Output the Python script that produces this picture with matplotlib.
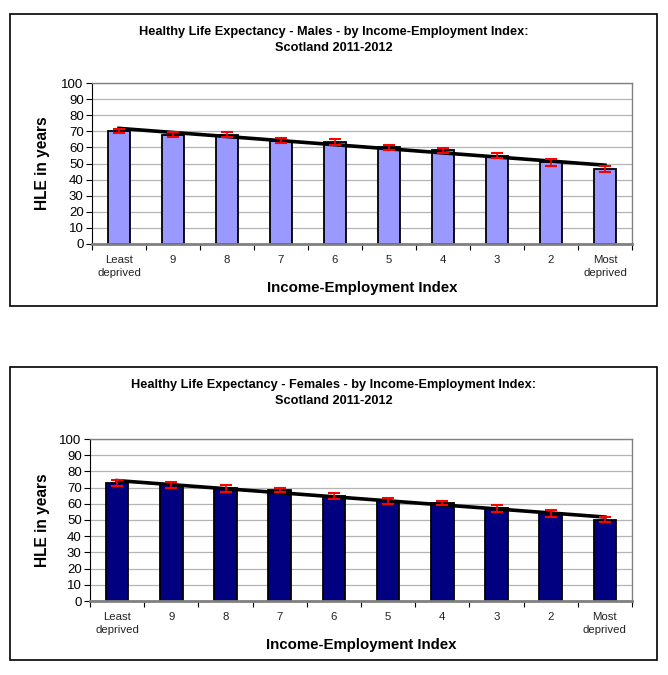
import matplotlib.pyplot as plt
import numpy as np
from matplotlib.patches import Rectangle
from matplotlib.ticker import FixedLocator

plt.rcParams['font.family'] = ['Liberation Sans', 'DejaVu Sans']

categories = ["Least\ndeprived", "9", "8", "7", "6", "5", "4", "3", "2", "Most\ndeprived"]

male_hle = [70.2, 68.0, 67.8, 64.2, 63.3, 60.0, 58.2, 54.9, 50.7, 46.6]
male_err = [1.5, 1.6, 1.6, 1.5, 1.8, 1.5, 1.4, 1.6, 2.1, 2.0]

female_hle = [72.8, 71.5, 69.5, 68.3, 64.8, 61.7, 60.7, 57.2, 54.1, 50.2]
female_err = [1.9, 1.7, 2.0, 1.3, 1.8, 1.8, 1.3, 2.2, 2.0, 1.4]

W, H = 668, 675
fig = plt.figure(figsize=(W / 100, H / 100), dpi=100)


def px_rect(x0, y0, x1, y1):
    # pixel box (top-left origin) -> figure fraction
    return [x0 / W, 1 - y1 / H, (x1 - x0) / W, (y1 - y0) / H]


def draw_chart(box, plot, values, errs, color, width, title):
    bx0, by0, bx1, by1 = box
    fig.add_artist(Rectangle((bx0 / W, 1 - by1 / H), (bx1 - bx0) / W, (by1 - by0) / H,
                             transform=fig.transFigure, fill=False,
                             edgecolor='black', linewidth=1.2))
    ax = fig.add_axes(px_rect(*plot))
    x = np.arange(len(values))
    ax.bar(x, values, width=width, color=color, edgecolor='black', linewidth=1.3, zorder=2)
    # linear trendline
    k, b = np.polyfit(x, values, 1)
    ax.plot(x, k * x + b, color='black', linewidth=2.6, zorder=3)
    ax.errorbar(x, values, yerr=errs, fmt='none', ecolor='red', elinewidth=1.2,
                capsize=4, capthick=1.5, zorder=4)

    ax.set_xlim(-0.5, len(values) - 0.5)
    ax.set_ylim(0, 100)
    ax.set_yticks(np.arange(0, 101, 10))
    ax.yaxis.grid(True, color='#b4b4b4', linewidth=0.9)
    ax.set_axisbelow(True)
    ax.tick_params(axis='y', labelsize=9.5, length=4, width=0.8, pad=2, colors='black')
    ax.set_xticks(x)
    ax.set_xticklabels(categories, fontsize=8.2, color='#222222', linespacing=1.3)
    ax.xaxis.set_minor_locator(FixedLocator(np.arange(-0.5, len(values), 1.0)))
    ax.tick_params(axis='x', which='major', length=0, pad=8)
    ax.tick_params(axis='x', which='minor', length=4, width=0.8, color='black')

    ax.spines['left'].set_color('black')
    ax.spines['left'].set_linewidth(0.8)
    ax.spines['bottom'].set_color('#808080')
    ax.spines['bottom'].set_linewidth(2.0)
    for s in ('top', 'right'):
        ax.spines[s].set_color('#808080')
        ax.spines[s].set_linewidth(1.0)

    cx = (bx0 + bx1) / 2 / W
    fig.text(cx, 1 - (by0 + 26) / H, title, ha='center', va='center',
             fontsize=9.2, fontweight='bold', linespacing=1.45)
    py0, py1 = plot[1], plot[3]
    fig.text(42 / W, 1 - (py0 + py1) / 2 / H, "HLE in years", rotation=90,
             ha='center', va='center', fontsize=11.2, fontweight='bold')
    fig.text((plot[0] + plot[2]) / 2 / W, 1 - (py1 + 44) / H, "Income-Employment Index",
             ha='center', va='center', fontsize=10.8, fontweight='bold')
    return ax


draw_chart((10, 14, 657, 306), (92, 83, 632, 244), male_hle, male_err, '#9999ff', 0.4,
           "Healthy Life Expectancy - Males - by Income-Employment Index:\nScotland 2011-2012")
draw_chart((10, 367, 657, 660), (90, 439, 632, 601), female_hle, female_err, '#000080', 0.42,
           "Healthy Life Expectancy - Females - by Income-Employment Index:\nScotland 2011-2012")

plt.savefig("out.png", dpi=100)
